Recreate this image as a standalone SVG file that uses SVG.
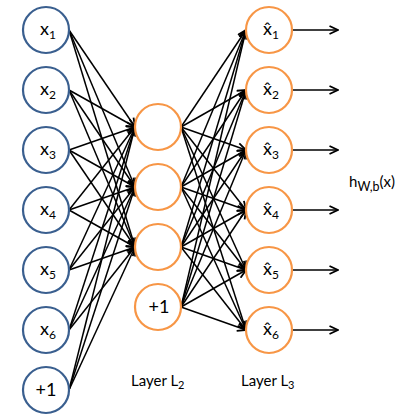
<svg xmlns="http://www.w3.org/2000/svg" width="405" height="420" viewBox="0 0 405 420">
<style>
.in{fill:#fff;stroke:#3A5F8F;stroke-width:2.2}
.hid{fill:#fff;stroke:#F79646;stroke-width:2.2}
.t{font-family:Lato,"Open Sans","Liberation Sans",sans-serif;font-size:18px;fill:#000}
.s{font-size:12px}
.lab{font-family:Lato,"Open Sans","Liberation Sans",sans-serif;font-size:15px;fill:#000}
.c line{stroke:#000;stroke-width:1.5}
.a line{marker-end:url(#ah)}
</style>
<defs>
<marker id="ah" viewBox="0 0 10 10" refX="9.5" refY="5" markerWidth="10" markerHeight="10" markerUnits="userSpaceOnUse" orient="auto">
<path d="M1,1 L9.5,5 L1,9" fill="none" stroke="#000" stroke-width="1.8"/>
</marker>
</defs>
<g id="connectors" class="c a">
<line x1="69" y1="30" x2="135" y2="127"/><line x1="69" y1="30" x2="135" y2="187"/><line x1="69" y1="30" x2="135" y2="247"/>
<line x1="69" y1="90" x2="135" y2="127"/><line x1="69" y1="90" x2="135" y2="187"/><line x1="69" y1="90" x2="135" y2="247"/>
<line x1="69" y1="150" x2="135" y2="127"/><line x1="69" y1="150" x2="135" y2="187"/><line x1="69" y1="150" x2="135" y2="247"/>
<line x1="69" y1="210" x2="135" y2="127"/><line x1="69" y1="210" x2="135" y2="187"/><line x1="69" y1="210" x2="135" y2="247"/>
<line x1="69" y1="270" x2="135" y2="127"/><line x1="69" y1="270" x2="135" y2="187"/><line x1="69" y1="270" x2="135" y2="247"/>
<line x1="69" y1="330" x2="135" y2="127"/><line x1="69" y1="330" x2="135" y2="187"/><line x1="69" y1="330" x2="135" y2="247"/>
<line x1="69" y1="390" x2="135" y2="127"/><line x1="69" y1="390" x2="135" y2="187"/><line x1="69" y1="390" x2="135" y2="247"/>
<line x1="181" y1="127" x2="246" y2="30"/><line x1="181" y1="127" x2="246" y2="90"/><line x1="181" y1="127" x2="246" y2="150"/><line x1="181" y1="127" x2="246" y2="210"/><line x1="181" y1="127" x2="246" y2="270"/><line x1="181" y1="127" x2="246" y2="330"/>
<line x1="181" y1="187" x2="246" y2="30"/><line x1="181" y1="187" x2="246" y2="90"/><line x1="181" y1="187" x2="246" y2="150"/><line x1="181" y1="187" x2="246" y2="210"/><line x1="181" y1="187" x2="246" y2="270"/><line x1="181" y1="187" x2="246" y2="330"/>
<line x1="181" y1="247" x2="246" y2="30"/><line x1="181" y1="247" x2="246" y2="90"/><line x1="181" y1="247" x2="246" y2="150"/><line x1="181" y1="247" x2="246" y2="210"/><line x1="181" y1="247" x2="246" y2="270"/><line x1="181" y1="247" x2="246" y2="330"/>
<line x1="181" y1="307" x2="246" y2="30"/><line x1="181" y1="307" x2="246" y2="90"/><line x1="181" y1="307" x2="246" y2="150"/><line x1="181" y1="307" x2="246" y2="210"/><line x1="181" y1="307" x2="246" y2="270"/><line x1="181" y1="307" x2="246" y2="330"/>
<line x1="292" y1="30" x2="338" y2="30"/><line x1="292" y1="90" x2="338" y2="90"/><line x1="292" y1="150" x2="338" y2="150"/>
<line x1="292" y1="210" x2="338" y2="210"/><line x1="292" y1="270" x2="338" y2="270"/><line x1="292" y1="330" x2="338" y2="330"/>
</g>
<g id="in1"><circle class="in" cx="46" cy="30" r="23"/><text class="t" x="40" y="34.5">x<tspan class="s" dy="4">1</tspan></text></g>
<g id="in2"><circle class="in" cx="46" cy="90" r="23"/><text class="t" x="40" y="94.5">x<tspan class="s" dy="4">2</tspan></text></g>
<g id="in3"><circle class="in" cx="46" cy="150" r="23"/><text class="t" x="40" y="154.5">x<tspan class="s" dy="4">3</tspan></text></g>
<g id="in4"><circle class="in" cx="46" cy="210" r="23"/><text class="t" x="40" y="214.5">x<tspan class="s" dy="4">4</tspan></text></g>
<g id="in5"><circle class="in" cx="46" cy="270" r="23"/><text class="t" x="40" y="274.5">x<tspan class="s" dy="4">5</tspan></text></g>
<g id="in6"><circle class="in" cx="46" cy="330" r="23"/><text class="t" x="40" y="334.5">x<tspan class="s" dy="4">6</tspan></text></g>
<g id="inb"><circle class="in" cx="46" cy="390" r="23"/><text class="t" x="46" y="396" text-anchor="middle" font-size="19">+1</text></g>
<g id="h1"><circle class="hid" cx="158" cy="127" r="23"/></g>
<g id="h2"><circle class="hid" cx="158" cy="187" r="23"/></g>
<g id="h3"><circle class="hid" cx="158" cy="247" r="23"/></g>
<g id="hb"><circle class="hid" cx="158" cy="307" r="23"/><text class="t" x="159" y="313" text-anchor="middle" font-size="19">+1</text></g>
<g id="o1"><circle class="hid" cx="269" cy="30" r="23"/><text class="t" x="263" y="34.5">x&#x302;<tspan class="s" dy="4">1</tspan></text></g>
<g id="o2"><circle class="hid" cx="269" cy="90" r="23"/><text class="t" x="263" y="94.5">x&#x302;<tspan class="s" dy="4">2</tspan></text></g>
<g id="o3"><circle class="hid" cx="269" cy="150" r="23"/><text class="t" x="263" y="154.5">x&#x302;<tspan class="s" dy="4">3</tspan></text></g>
<g id="o4"><circle class="hid" cx="269" cy="210" r="23"/><text class="t" x="263" y="214.5">x&#x302;<tspan class="s" dy="4">4</tspan></text></g>
<g id="o5"><circle class="hid" cx="269" cy="270" r="23"/><text class="t" x="263" y="274.5">x&#x302;<tspan class="s" dy="4">5</tspan></text></g>
<g id="o6"><circle class="hid" cx="269" cy="330" r="23"/><text class="t" x="263" y="334.5">x&#x302;<tspan class="s" dy="4">6</tspan></text></g>
<g id="labels">
<text class="lab" x="131" y="386">Layer L<tspan font-size="11" dy="3">2</tspan></text>
<text class="lab" x="241" y="386">Layer L<tspan font-size="11" dy="3">3</tspan></text>
<text class="lab" x="349" y="187" font-size="19">h<tspan font-size="12.5" dy="4">W,b</tspan><tspan dy="-4">(x)</tspan></text>
</g>
</svg>
